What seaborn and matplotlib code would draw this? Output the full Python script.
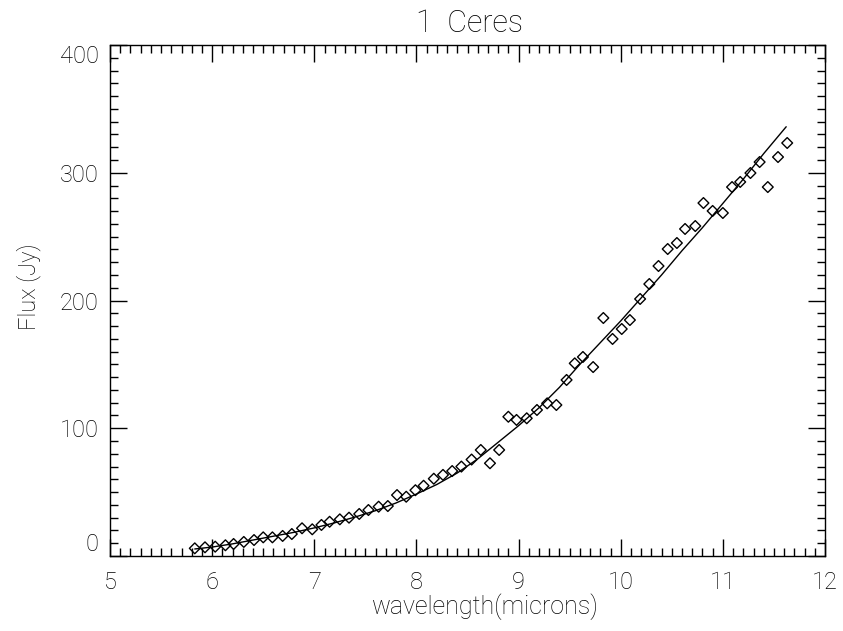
import matplotlib
matplotlib.use("Agg")
import matplotlib.pyplot as plt
from matplotlib.ticker import MultipleLocator
import seaborn as sns
import pandas as pd

# Observed spectrum (diamonds)
wavelength = [5.83, 5.93, 6.03, 6.13, 6.21, 6.31, 6.41, 6.50, 6.59, 6.69,
              6.78, 6.88, 6.98, 7.07, 7.15, 7.25, 7.34, 7.44, 7.53, 7.63,
              7.72, 7.81, 7.90, 7.99, 8.07, 8.17, 8.26, 8.35, 8.44, 8.54,
              8.63, 8.72, 8.81, 8.90, 8.98, 9.08, 9.18, 9.28, 9.37, 9.47,
              9.55, 9.63, 9.73, 9.83, 9.92, 10.01, 10.09, 10.19, 10.28, 10.37,
              10.46, 10.55, 10.63, 10.73, 10.81, 10.90, 11.00, 11.09, 11.17, 11.27,
              11.36, 11.44, 11.54, 11.63]
flux = [6.0, 6.8, 7.3, 8.4, 9.4, 11.0, 12.5, 14.6, 14.6, 15.7,
        17.2, 21.7, 20.9, 24.3, 26.8, 28.7, 30.0, 32.9, 36.0, 38.6,
        39.1, 47.7, 46.4, 51.5, 55.0, 60.5, 63.5, 66.5, 70.0, 75.5,
        83.0, 72.6, 83.0, 109.0, 106.5, 107.8, 114.3, 119.5, 118.2, 137.8,
        150.8, 155.8, 147.9, 186.3, 169.9, 177.7, 184.7, 201.2, 212.9, 227.0,
        240.3, 245.0, 256.0, 258.3, 276.3, 270.1, 268.5, 288.8, 292.8, 299.8,
        308.4, 288.8, 312.3, 323.3]

# Fitted model curve (solid line)
fit_wave = [5.83, 6.0, 6.2, 6.4, 6.6, 6.8, 7.0, 7.2, 7.4, 7.6, 7.8, 8.0,
            8.2, 8.4, 8.6, 8.8, 9.0, 9.2, 9.4, 9.6, 9.8, 10.0, 10.2, 10.4,
            10.6, 10.8, 11.0, 11.2, 11.4, 11.62]
fit_flux = [5.5, 7.0, 9.5, 12.5, 15.5, 18.5, 22.0, 26.0, 30.5, 35.5, 41.5, 48.5,
            56.0, 65.0, 76.0, 89.0, 102.0, 116.0, 132.0, 150.0, 167.0, 184.0, 202.0, 220.0,
            239.0, 257.0, 276.0, 295.0, 315.0, 336.0]

xticks = [5, 6, 7, 8, 9, 10, 11, 12]
yticks = [0, 100, 200, 300, 400]

obs = pd.DataFrame({"wavelength": wavelength, "flux": flux})
fit = pd.DataFrame({"wavelength": fit_wave, "flux": fit_flux})

sns.set_style("ticks")
plt.rcParams["font.family"] = ["Roboto", "DejaVu Sans"]
plt.rcParams["font.weight"] = "light"
plt.rcParams["axes.titleweight"] = "light"
plt.rcParams["axes.labelweight"] = "light"

fig = plt.figure(figsize=(8.43, 6.31), dpi=100)
ax = fig.add_axes([110 / 843, 1 - 556 / 631, 715 / 843, 511 / 631])

sns.lineplot(data=fit, x="wavelength", y="flux", ax=ax, color="black",
             linewidth=1.0, sort=False)
sns.scatterplot(data=obs, x="wavelength", y="flux", ax=ax, marker="D", s=30,
                facecolor="none", edgecolor="black", linewidth=1.0)

ax.set_xlim(5, 12)
ax.set_ylim(0, 400)
ax.set_xticks(xticks)
ax.set_yticks(yticks)
ax.set_xticklabels([str(t) for t in xticks])
ax.set_yticklabels([str(t) for t in yticks])
ax.xaxis.set_minor_locator(MultipleLocator(0.1))
ax.yaxis.set_minor_locator(MultipleLocator(10))

ax.tick_params(which="both", direction="in", top=True, right=True,
               color="black", width=1.0, labelsize=17, labelcolor="black")
ax.tick_params(which="major", length=12)
ax.tick_params(which="minor", length=6)
ax.tick_params(axis="x", which="major", pad=11)
ax.tick_params(axis="y", which="major", pad=8)

for s in ax.spines.values():
    s.set_color("black")
    s.set_linewidth(1.0)

ylabels = ax.get_yticklabels()
ylabels[0].set_va("bottom")
ylabels[-1].set_va("top")

ax.set_title("1  Ceres", fontsize=22, pad=9, color="black", x=0.503)
ax.set_xlabel("wavelength(microns)", fontsize=18, color="black")
ax.set_ylabel("Flux (Jy)", fontsize=17, color="black")
ax.xaxis.set_label_coords(0.5245, -0.074)
ax.yaxis.set_label_coords(-0.097, 0.527)

fig.savefig("out.png", dpi=100, facecolor="white")
